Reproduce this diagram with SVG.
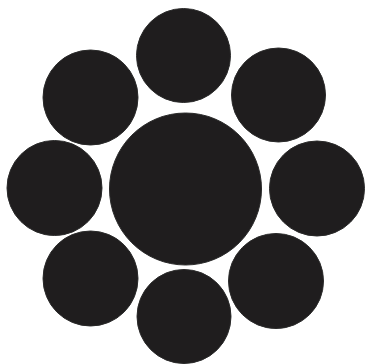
<svg xmlns="http://www.w3.org/2000/svg" width="366" height="364" viewBox="0 0 366 364">
<style>
.c{fill:#1f1d1e;stroke:#2a2a2a;stroke-width:1}
</style>
<rect width="366" height="364" fill="#ffffff"/>
<g id="center"><circle class="c" cx="185.5" cy="189" r="76"/></g>
<g id="top"><circle class="c" cx="183.5" cy="55.5" r="47"/></g>
<g id="top-left"><circle class="c" cx="90.5" cy="97.5" r="47.5"/></g>
<g id="top-right"><circle class="c" cx="278.5" cy="95" r="47"/></g>
<g id="left"><circle class="c" cx="54.5" cy="188" r="47.5"/></g>
<g id="right"><circle class="c" cx="317" cy="188.5" r="47.5"/></g>
<g id="bottom-left"><circle class="c" cx="90.5" cy="278.5" r="47.5"/></g>
<g id="bottom"><circle class="c" cx="184" cy="316.5" r="47"/></g>
<g id="bottom-right"><circle class="c" cx="276" cy="281" r="47.5"/></g>
<g id="connectors"></g>
</svg>
